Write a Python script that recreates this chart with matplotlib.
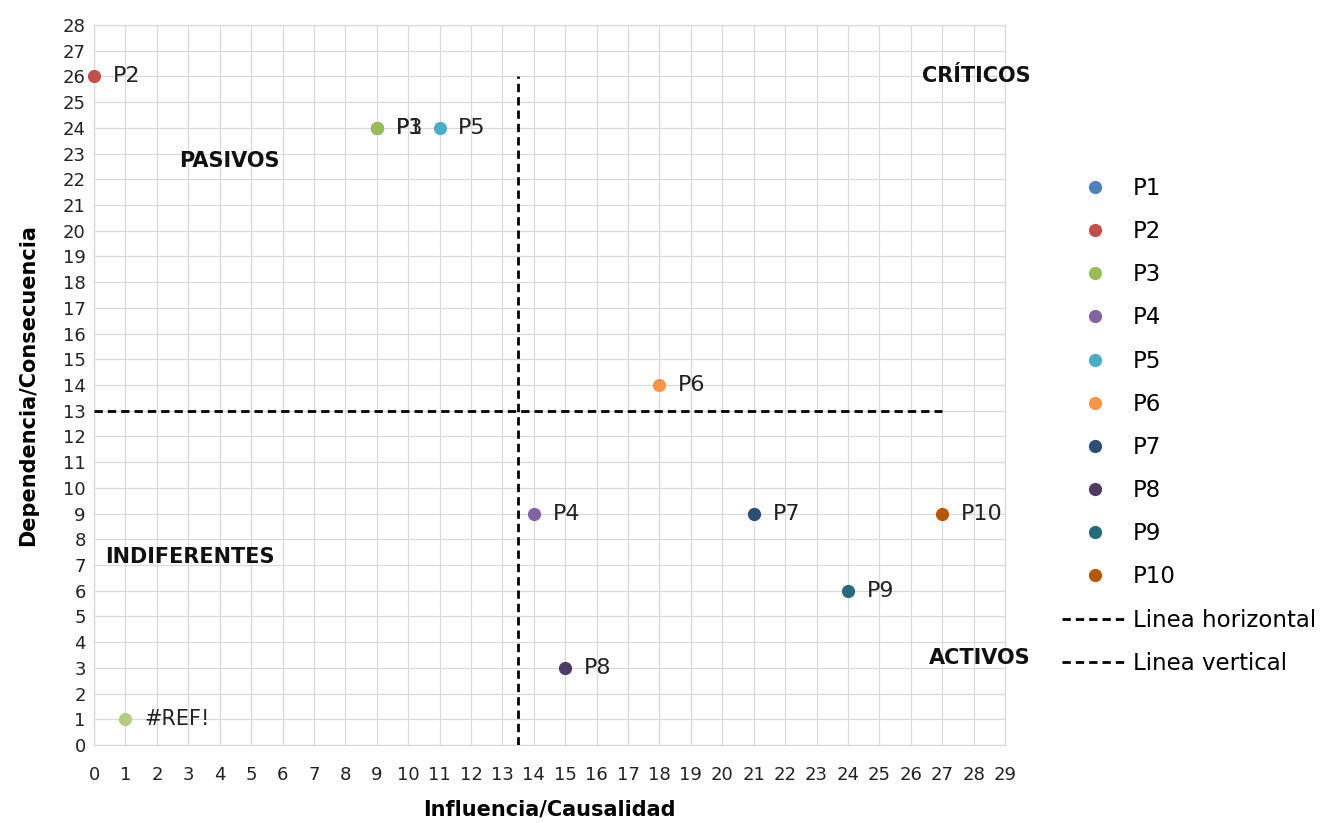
import numpy as np
import matplotlib.pyplot as plt
from matplotlib.lines import Line2D

# data points (influencia, dependencia)
names = ['P1', 'P2', 'P3', 'P4', 'P5', 'P6', 'P7', 'P8', 'P9', 'P10']
influencia = [9, 0, 9, 14, 11, 18, 21, 15, 24, 27]
dependencia = [24, 26, 24, 9, 24, 14, 9, 3, 6, 9]
colores = ['#4F81BD', '#C0504D', '#9BBB59', '#8064A2', '#4BACC6',
           '#F79646', '#2C4D75', '#4D3B62', '#276A7C', '#B65708']

# broken reference series
ref_x = [1]
ref_y = [1]

# quadrant division lines
linea_h_x = [0, 27]
linea_h_y = [13, 13]
linea_v_x = [13.5, 13.5]
linea_v_y = [0, 26]

# quadrant labels
cuadrantes = ['PASIVOS', 'CRÍTICOS', 'INDIFERENTES', 'ACTIVOS']
cuad_x = [4.3, 28.1, 3.05, 28.2]
cuad_y = [22.7, 26.0, 7.3, 3.4]

fig = plt.figure(figsize=(13.21, 8.23), dpi=100)
ax = fig.add_axes([0.0712, 0.0948, 0.6896, 0.8748])

ax.set_xlim(0, 29)
ax.set_ylim(0, 28)
ax.set_xticks(np.arange(0, 30))
ax.set_yticks(np.arange(0, 29))
ax.grid(True, color='#D9D9D9', linewidth=0.9)
ax.set_axisbelow(True)
for s in ax.spines.values():
    s.set_color('#D9D9D9')
    s.set_linewidth(0.9)
ax.tick_params(length=0, labelsize=13, colors='#222222')
ax.tick_params(axis='x', pad=15)
ax.tick_params(axis='y', pad=6)

handles = []
for i in range(len(names)):
    ax.plot(influencia[i], dependencia[i], 'o', color=colores[i], markersize=8.5,
            clip_on=False, zorder=4)
    ax.annotate(names[i], (influencia[i], dependencia[i]), xytext=(13.5, 0),
                textcoords='offset points', va='center', ha='left',
                fontsize=16, color='#222222', zorder=5)
    handles.append(Line2D([], [], marker='o', linestyle='none', color=colores[i],
                          markersize=8.5, label=names[i]))

ax.plot(ref_x, ref_y, 'o', color='#B3CC82', markersize=8.5, zorder=4)
ax.annotate('#REF!', (ref_x[0], ref_y[0]), xytext=(13.5, 0), textcoords='offset points',
            va='center', ha='left', fontsize=15, color='#222222')

lh, = ax.plot(linea_h_x, linea_h_y, color='black', linewidth=2, dashes=(3, 1.8),
              label='Linea horizontal', zorder=3)
lv, = ax.plot(linea_v_x, linea_v_y, color='black', linewidth=2, dashes=(3, 1.8),
              label='Linea vertical', zorder=3)
handles += [lh, lv]

for t, x, y in zip(cuadrantes, cuad_x, cuad_y):
    ax.text(x, y, t, ha='center', va='center', fontsize=15, fontweight='bold',
            color='#111111', clip_on=False)

ax.set_xlabel('Influencia/Causalidad', fontsize=15, fontweight='bold', labelpad=11)
ax.set_ylabel('Dependencia/Consecuencia', fontsize=15, fontweight='bold', labelpad=18)

fig.legend(handles=handles, loc='upper left', bbox_to_anchor=(0.804, 0.785),
           frameon=False, fontsize=16.5, labelspacing=0.88, handlelength=2.88,
           handletextpad=0.22, borderpad=0, borderaxespad=0)

fig.savefig('out.png', dpi=100)
